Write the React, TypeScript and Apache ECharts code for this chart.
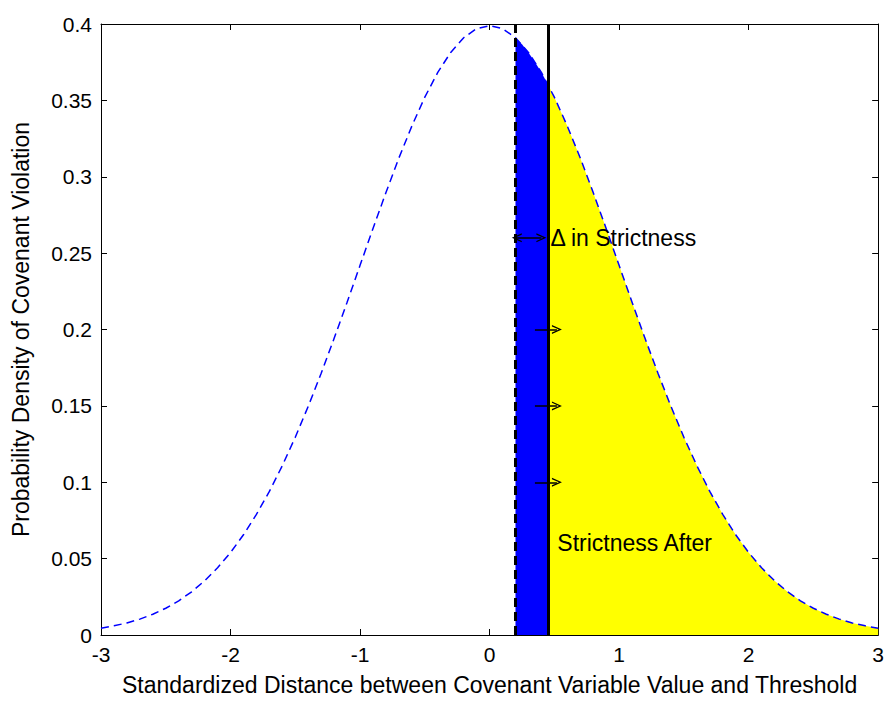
import React, { useEffect, useRef } from "react";
import * as echarts from "echarts";

// Standard-normal-shaped density
const curveX = [
  -3.0, -2.9, -2.8, -2.7, -2.6, -2.5, -2.4, -2.3, -2.2, -2.1, -2.0, -1.9, -1.8, -1.7, -1.6, -1.5,
  -1.4, -1.3, -1.2, -1.1, -1.0, -0.9, -0.8, -0.7, -0.6, -0.5, -0.4, -0.3, -0.2, -0.1, 0.0, 0.1,
  0.2, 0.3, 0.4, 0.5, 0.6, 0.7, 0.8, 0.9, 1.0, 1.1, 1.2, 1.3, 1.4, 1.5, 1.6, 1.7, 1.8, 1.9, 2.0,
  2.1, 2.2, 2.3, 2.4, 2.5, 2.6, 2.7, 2.8, 2.9, 3.0,
];
const curveY = [
  0.0044, 0.006, 0.0079, 0.0104, 0.0136, 0.0175, 0.0224, 0.0283, 0.0355, 0.044, 0.054, 0.0656,
  0.079, 0.094, 0.1109, 0.1295, 0.1497, 0.1714, 0.1942, 0.2179, 0.242, 0.2661, 0.2897, 0.3123,
  0.3332, 0.3521, 0.3683, 0.3814, 0.391, 0.397, 0.3989, 0.397, 0.391, 0.3814, 0.3683, 0.3521,
  0.3332, 0.3123, 0.2897, 0.2661, 0.242, 0.2179, 0.1942, 0.1714, 0.1497, 0.1295, 0.1109, 0.094,
  0.079, 0.0656, 0.054, 0.044, 0.0355, 0.0283, 0.0224, 0.0175, 0.0136, 0.0104, 0.0079, 0.006,
  0.0044,
];

// Blue region (change in strictness), from old to new threshold
const blueX = [0.2, 0.25, 0.3, 0.35, 0.4, 0.45];
const blueY = [0.391, 0.3867, 0.3814, 0.3752, 0.3683, 0.3605];

// Yellow region (strictness after), from new threshold to 3
const yellowX = [
  0.45, 0.5, 0.6, 0.7, 0.8, 0.9, 1.0, 1.1, 1.2, 1.3, 1.4, 1.5, 1.6, 1.7, 1.8, 1.9, 2.0, 2.1, 2.2,
  2.3, 2.4, 2.5, 2.6, 2.7, 2.8, 2.9, 3.0,
];
const yellowY = [
  0.3605, 0.3521, 0.3332, 0.3123, 0.2897, 0.2661, 0.242, 0.2179, 0.1942, 0.1714, 0.1497, 0.1295,
  0.1109, 0.094, 0.079, 0.0656, 0.054, 0.044, 0.0355, 0.0283, 0.0224, 0.0175, 0.0136, 0.0104,
  0.0079, 0.006, 0.0044,
];

const oldThreshold = 0.2;
const newThreshold = 0.45;

// Annotation arrows (start x, end x, y)
const shiftArrowY = [0.2, 0.15, 0.1];
const shiftArrowFrom = 0.35;
const shiftArrowTo = 0.52;
const deltaArrow = { from: 0.21, to: 0.4, y: 0.26 };

const xTitle = "Standardized Distance between Covenant Variable Value and Threshold";
const yTitle = "Probability Density of Covenant Violation";
const deltaLabel = "Δ in Strictness";
const afterLabel = "Strictness After";
const afterLabelPos = [0.5, 0.06];

const FONT = "'Liberation Sans', Arial, sans-serif";
const FS = 21;
const FS_TITLE = 23;
const FS_NOTE = 23;

const zip = (xs: number[], ys: number[]) => xs.map((x, i) => [x, ys[i]]);

const chevron = "path://M5,0 L10,10 L8.4,10 L5,3 L1.6,10 L0,10 Z";

export default function App() {
  const ref = useRef<HTMLDivElement>(null);
  useEffect(() => {
    if (!ref.current) return;
    const chart = echarts.init(ref.current, undefined, { renderer: "svg" });
    const axisCommon = {
      type: "value" as const,
      axisLine: { show: true, onZero: false, lineStyle: { color: "#000", width: 1 } },
      axisTick: { show: true, inside: true, length: 6, lineStyle: { color: "#000" } },
      splitLine: { show: false },
    };
    const labelStyle = { color: "#000", fontSize: FS, fontFamily: FONT };
    const titleStyle = { color: "#000", fontSize: FS_TITLE, fontFamily: FONT };
    const noteStyle = { color: "#000", fontSize: FS_NOTE, fontFamily: FONT, letterSpacing: 0.6 };
    const fmt = (v: number) => String(parseFloat(v.toFixed(2)));

    const arrowLines: any[] = shiftArrowY.map((y) => [
      { coord: [shiftArrowFrom, y], symbol: "none" },
      { coord: [shiftArrowTo, y], symbol: chevron, symbolSize: [9, 10] },
    ]);
    arrowLines.push([
      { coord: [deltaArrow.from, deltaArrow.y], symbol: chevron, symbolSize: [9, 10] },
      { coord: [deltaArrow.to, deltaArrow.y], symbol: chevron, symbolSize: [9, 10] },
    ]);

    chart.setOption({
      animation: false,
      backgroundColor: "#fff",
      grid: { left: 101, right: 4, top: 24, bottom: 60, containLabel: false },
      xAxis: [
        {
          ...axisCommon,
          position: "bottom",
          min: -3,
          max: 3,
          interval: 1,
          axisLabel: { ...labelStyle, margin: 9, formatter: fmt },
          name: xTitle,
          nameLocation: "middle",
          nameGap: 38,
          nameTextStyle: titleStyle,
        },
        {
          ...axisCommon,
          position: "top",
          min: -3,
          max: 3,
          interval: 1,
          axisLabel: { show: false },
        },
      ],
      yAxis: [
        {
          ...axisCommon,
          position: "left",
          min: 0,
          max: 0.4,
          interval: 0.05,
          axisLabel: { ...labelStyle, margin: 9, formatter: fmt },
          name: yTitle,
          nameLocation: "middle",
          nameGap: 69,
          nameTextStyle: titleStyle,
        },
        {
          ...axisCommon,
          position: "right",
          min: 0,
          max: 0.4,
          interval: 0.05,
          axisLabel: { show: false },
        },
      ],
      series: [
        {
          type: "line",
          data: zip(blueX, blueY),
          showSymbol: false,
          lineStyle: { width: 0 },
          areaStyle: { color: "#0000ff", opacity: 1 },
          z: 1,
          silent: true,
        },
        {
          type: "line",
          data: zip(yellowX, yellowY),
          showSymbol: false,
          lineStyle: { width: 0 },
          areaStyle: { color: "#ffff00", opacity: 1 },
          z: 1,
          silent: true,
          markLine: {
            silent: true,
            symbol: "none",
            label: { show: false },
            lineStyle: { color: "#000", width: 1.5, type: "solid" },
            data: arrowLines,
          },
          markPoint: {
            silent: true,
            symbol: "circle",
            symbolSize: 0,
            data: [
              {
                coord: [deltaArrow.to, deltaArrow.y],
                label: {
                  show: true,
                  position: "right",
                  distance: 9,
                  formatter: deltaLabel,
                  ...noteStyle,
                },
              },
              {
                coord: afterLabelPos,
                label: {
                  show: true,
                  position: "right",
                  distance: 3,
                  formatter: afterLabel,
                  ...noteStyle,
                },
              },
            ],
          },
        },
        {
          type: "line",
          data: zip(curveX, curveY),
          showSymbol: false,
          lineStyle: { color: "#0000ff", width: 1.5, type: [8, 5] },
          z: 3,
          silent: true,
          markLine: {
            silent: true,
            symbol: "none",
            label: { show: false },
            data: [
              { xAxis: oldThreshold, lineStyle: { color: "#000", width: 3, type: [9, 5] } },
              { xAxis: newThreshold, lineStyle: { color: "#000", width: 3, type: "solid" } },
            ],
          },
        },
      ],
    });
    return () => chart.dispose();
  }, []);
  return (
    <div
      ref={ref}
      style={{ position: "absolute", left: 0, top: 0, width: 887, height: 701 }}
    />
  );
}
